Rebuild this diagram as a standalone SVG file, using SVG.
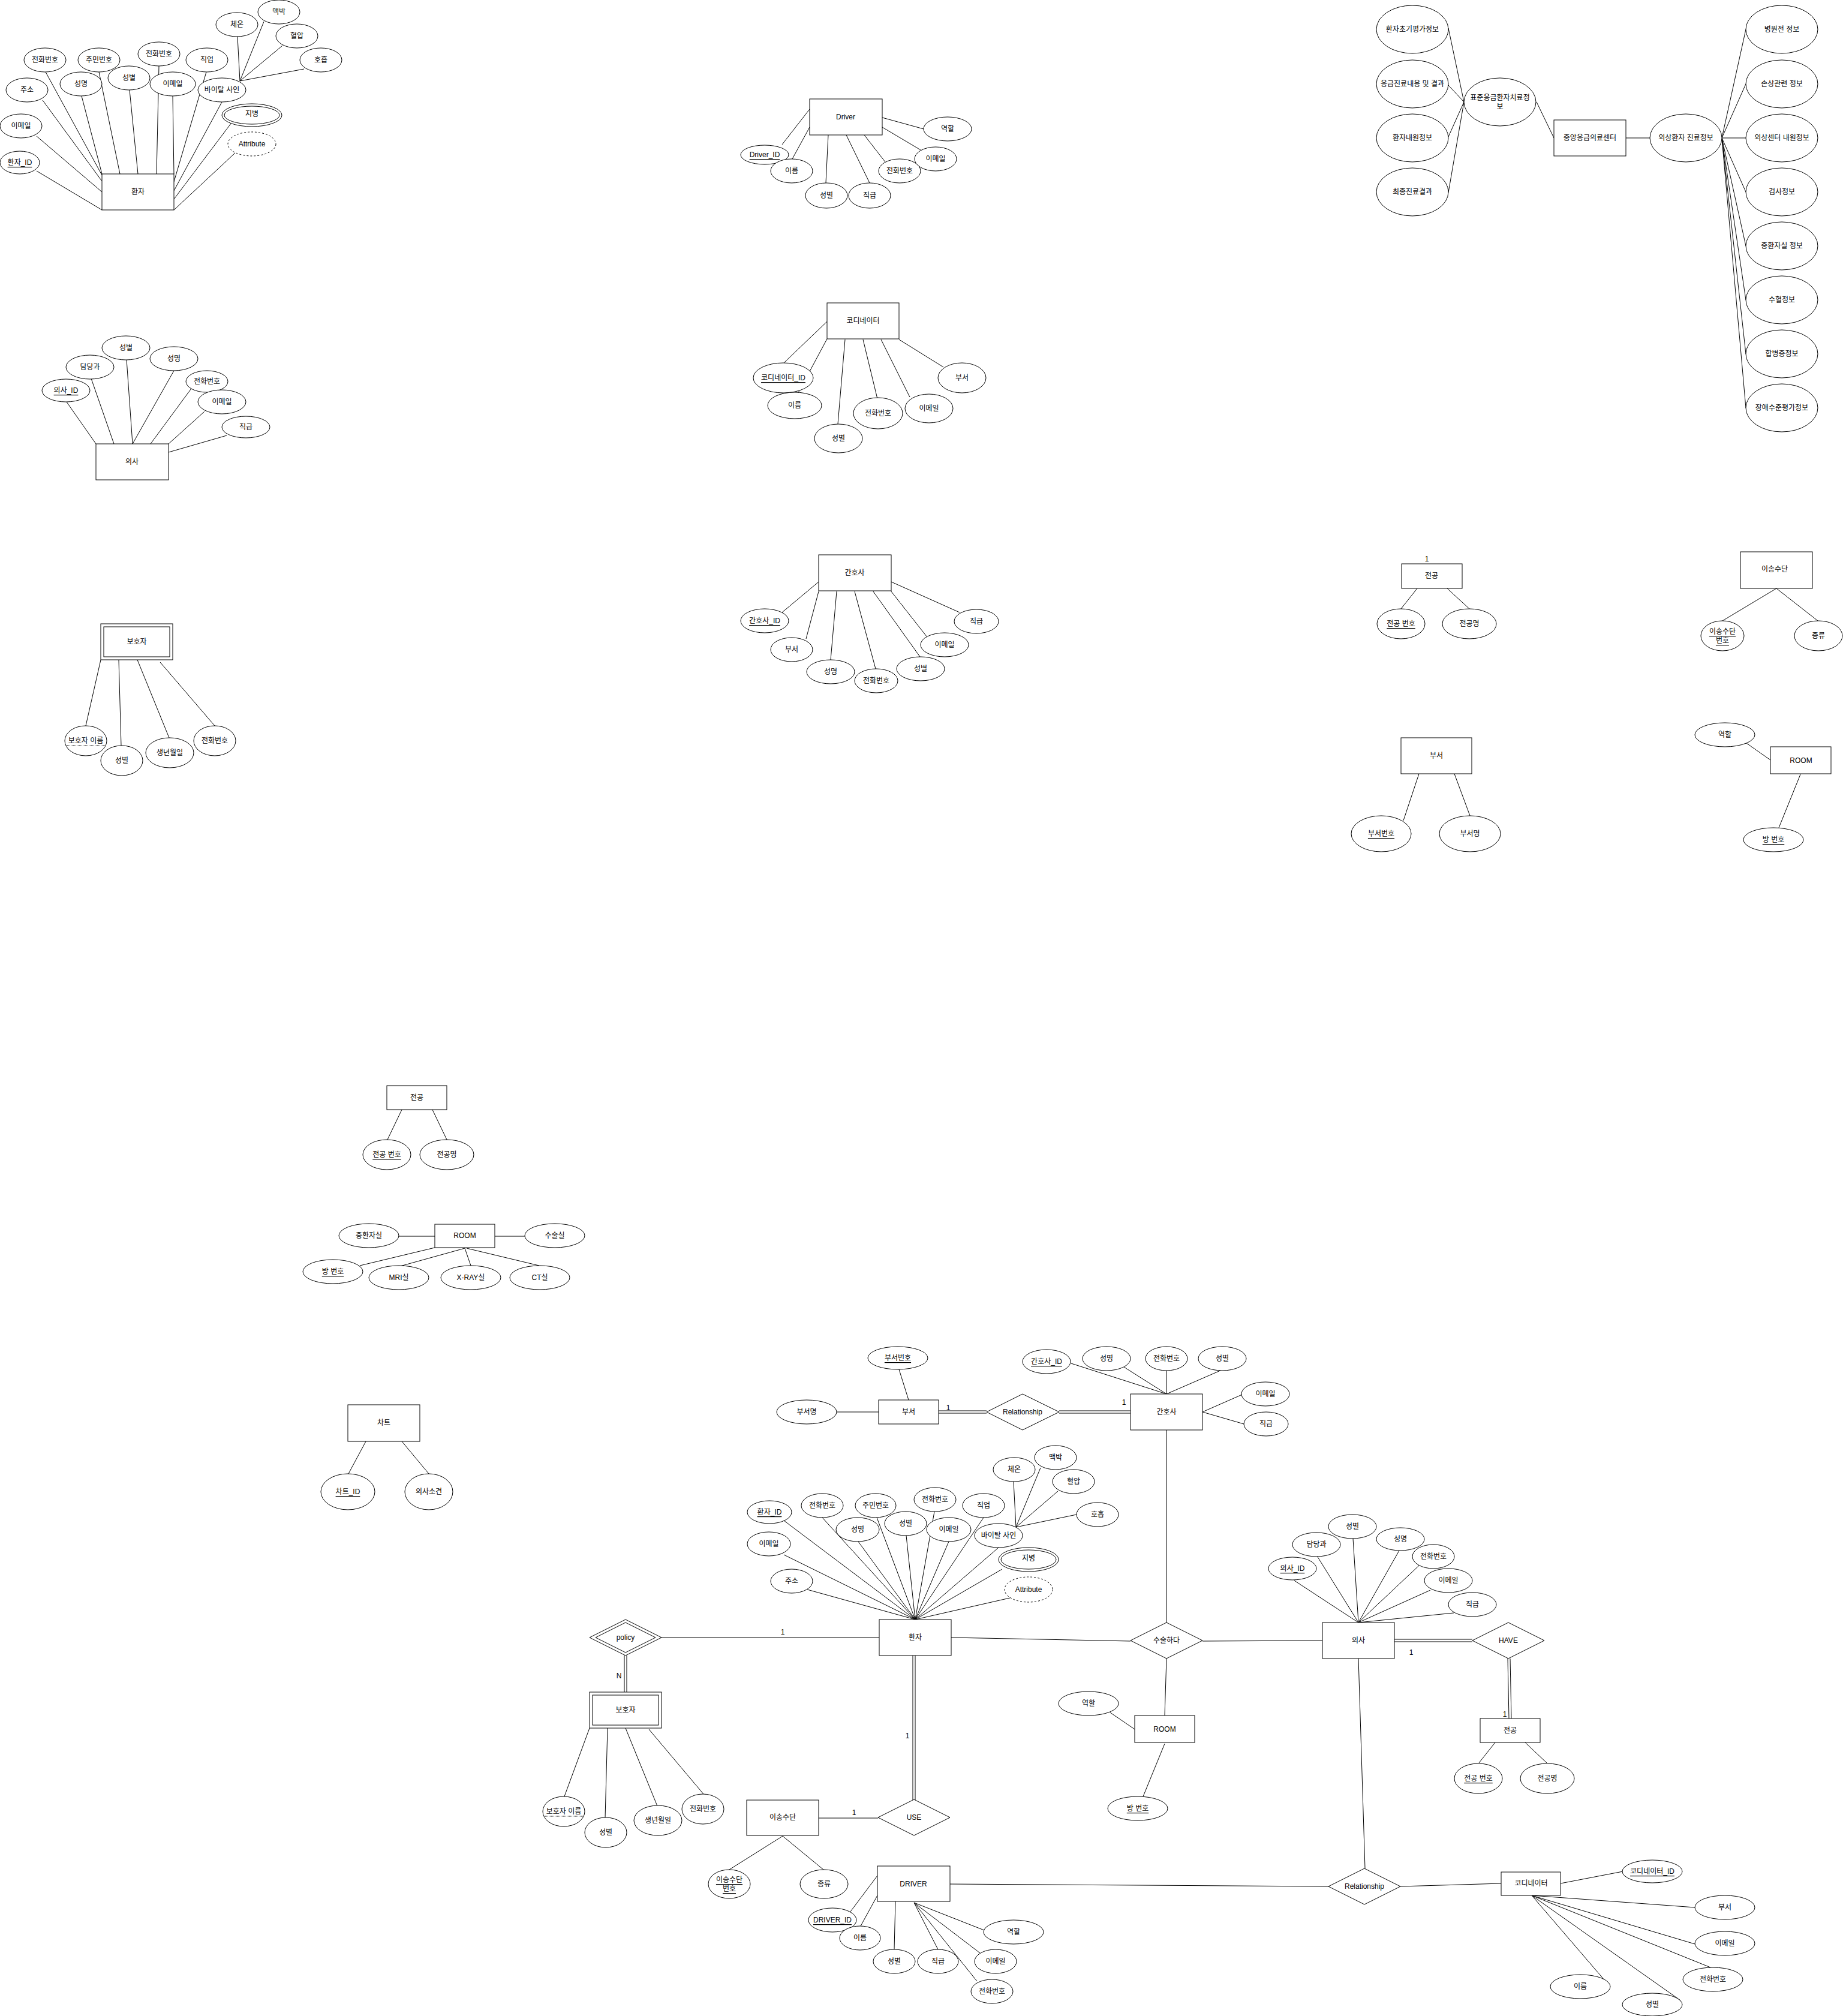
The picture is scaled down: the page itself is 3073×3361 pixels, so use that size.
<svg xmlns="http://www.w3.org/2000/svg" width="3073" height="3361" viewBox="0 0 3073 3361">
<style>
text{font-family:"Liberation Sans","Noto Sans CJK KR",sans-serif;font-size:12px;text-anchor:middle;dominant-baseline:central;fill:#000}
.n ellipse,.n rect,.n polygon{fill:#fff;stroke:#000;stroke-width:1}
.c line{stroke:#000;stroke-width:1}
.c .d1{stroke:#000;stroke-width:5}
.c .d2{stroke:#fff;stroke-width:3}
.u{text-decoration:underline}
.n .dash{stroke-dasharray:3 3}
.n .dot{stroke:#000;stroke-width:1;stroke-dasharray:1 1}
</style>
<rect width="3073" height="3361" fill="#fff"/>

<g id="connectors" class="c">
<line x1="61" y1="285" x2="170" y2="350"/>
<line x1="61" y1="227" x2="170" y2="320"/>
<line x1="71" y1="167" x2="170" y2="302"/>
<line x1="76" y1="120" x2="170" y2="292"/>
<line x1="136" y1="160" x2="170" y2="290"/>
<line x1="165" y1="120" x2="200" y2="290"/>
<line x1="216" y1="150" x2="230" y2="290"/>
<line x1="265" y1="110" x2="261" y2="290"/>
<line x1="288" y1="160" x2="290" y2="290"/>
<line x1="344" y1="120" x2="290" y2="303"/>
<line x1="370" y1="170" x2="290" y2="318"/>
<line x1="385" y1="206" x2="290" y2="332"/>
<line x1="392" y1="255" x2="290" y2="350"/>
<line x1="396" y1="61" x2="400" y2="135"/>
<line x1="440" y1="36" x2="400" y2="135"/>
<line x1="471" y1="76" x2="400" y2="135"/>
<line x1="507" y1="115" x2="400" y2="135"/>
<line x1="111" y1="670" x2="160" y2="740"/>
<line x1="152" y1="631" x2="190" y2="740"/>
<line x1="211" y1="599" x2="221" y2="740"/>
<line x1="290" y1="618" x2="221" y2="740"/>
<line x1="321" y1="645" x2="251" y2="740"/>
<line x1="341" y1="686" x2="281" y2="740"/>
<line x1="378" y1="726" x2="281" y2="754"/>
<line x1="143" y1="1210" x2="168" y2="1100"/>
<line x1="202" y1="1243" x2="198" y2="1100"/>
<line x1="282" y1="1230" x2="229" y2="1100"/>
<line x1="358" y1="1210" x2="267" y2="1104"/>
<line x1="1304" y1="241" x2="1350" y2="182"/>
<line x1="1321" y1="265" x2="1350" y2="212"/>
<line x1="1377" y1="305" x2="1381" y2="225"/>
<line x1="1450" y1="305" x2="1411" y2="225"/>
<line x1="1476" y1="270" x2="1441" y2="225"/>
<line x1="1535" y1="250" x2="1471" y2="212"/>
<line x1="1540" y1="215" x2="1471" y2="196"/>
<line x1="1307" y1="605" x2="1379" y2="536"/>
<line x1="1326" y1="664" x2="1379" y2="565"/>
<line x1="1397" y1="707" x2="1409" y2="566"/>
<line x1="1463" y1="665" x2="1439" y2="566"/>
<line x1="1517" y1="662" x2="1469" y2="566"/>
<line x1="1573" y1="612" x2="1499" y2="566"/>
<line x1="1304" y1="1021" x2="1365" y2="970"/>
<line x1="1344" y1="1065" x2="1365" y2="986"/>
<line x1="1385" y1="1100" x2="1395" y2="986"/>
<line x1="1460" y1="1115" x2="1425" y2="986"/>
<line x1="1534" y1="1095" x2="1456" y2="986"/>
<line x1="1545" y1="1061" x2="1486" y2="986"/>
<line x1="1600" y1="1021" x2="1486" y2="970"/>
<line x1="2415" y1="47" x2="2441" y2="170"/>
<line x1="2415" y1="142" x2="2441" y2="170"/>
<line x1="2415" y1="228" x2="2441" y2="170"/>
<line x1="2415" y1="321" x2="2441" y2="170"/>
<line x1="2562" y1="170" x2="2591" y2="230"/>
<line x1="2711" y1="230" x2="2751" y2="230"/>
<line x1="2871" y1="230" x2="2911" y2="49"/>
<line x1="2871" y1="230" x2="2911" y2="140"/>
<line x1="2871" y1="230" x2="2911" y2="230"/>
<line x1="2871" y1="230" x2="2911" y2="320"/>
<line x1="2871" y1="230" x2="2911" y2="410"/>
<line x1="2871" y1="230" x2="2911" y2="500"/>
<line x1="2871" y1="230" x2="2911" y2="590"/>
<line x1="2871" y1="230" x2="2911" y2="680"/>
<line x1="2336" y1="1015" x2="2363" y2="981"/>
<line x1="2450" y1="1015" x2="2413" y2="981"/>
<line x1="2872" y1="1035" x2="2962" y2="981"/>
<line x1="3031" y1="1035" x2="2962" y2="981"/>
<line x1="2340" y1="1368" x2="2366" y2="1290"/>
<line x1="2451" y1="1360" x2="2425" y2="1290"/>
<line x1="2912" y1="1239" x2="2952" y2="1267"/>
<line x1="2966" y1="1380" x2="3002" y2="1291"/>
<line x1="646" y1="1900" x2="670" y2="1850"/>
<line x1="745" y1="1900" x2="721" y2="1850"/>
<line x1="665" y1="2061" x2="725" y2="2061"/>
<line x1="825" y1="2061" x2="875" y2="2061"/>
<line x1="600" y1="2110" x2="725" y2="2080"/>
<line x1="667" y1="2111" x2="775" y2="2081"/>
<line x1="785" y1="2110" x2="775" y2="2081"/>
<line x1="899" y1="2110" x2="778" y2="2081"/>
<line x1="581" y1="2457" x2="610" y2="2403"/>
<line x1="715" y1="2457" x2="670" y2="2403"/>
<line x1="1499" y1="2283" x2="1515" y2="2334"/>
<line x1="1395" y1="2354" x2="1465" y2="2354"/>
<line class="d1" x1="1565" y1="2354" x2="1645" y2="2354"/>
<line class="d2" x1="1565" y1="2354" x2="1645" y2="2354"/>
<line class="d1" x1="1766" y1="2354" x2="1885" y2="2354"/>
<line class="d2" x1="1766" y1="2354" x2="1885" y2="2354"/>
<line x1="1786" y1="2273" x2="1945" y2="2324"/>
<line x1="1874" y1="2279" x2="1945" y2="2324"/>
<line x1="1945" y1="2284" x2="1945" y2="2324"/>
<line x1="2037" y1="2284" x2="1945" y2="2324"/>
<line x1="2071" y1="2325" x2="2005" y2="2354"/>
<line x1="2074" y1="2374" x2="2005" y2="2354"/>
<line x1="1945" y1="2384" x2="1945" y2="2705"/>
<line x1="1307" y1="2535" x2="1526" y2="2700"/>
<line x1="1307" y1="2592" x2="1526" y2="2700"/>
<line x1="1346" y1="2650" x2="1526" y2="2700"/>
<line x1="1371" y1="2530" x2="1526" y2="2700"/>
<line x1="1431" y1="2570" x2="1526" y2="2700"/>
<line x1="1462" y1="2530" x2="1526" y2="2700"/>
<line x1="1511" y1="2560" x2="1526" y2="2700"/>
<line x1="1558" y1="2520" x2="1526" y2="2700"/>
<line x1="1582" y1="2570" x2="1526" y2="2700"/>
<line x1="1640" y1="2530" x2="1526" y2="2700"/>
<line x1="1665" y1="2580" x2="1526" y2="2700"/>
<line x1="1671" y1="2616" x2="1526" y2="2700"/>
<line x1="1684" y1="2664" x2="1526" y2="2700"/>
<line x1="1690" y1="2470" x2="1694" y2="2546"/>
<line x1="1735" y1="2447" x2="1694" y2="2546"/>
<line x1="1764" y1="2486" x2="1694" y2="2546"/>
<line x1="1795" y1="2525" x2="1694" y2="2546"/>
<line x1="1103" y1="2730" x2="1466" y2="2730"/>
<line class="d1" x1="1043" y1="2760" x2="1043" y2="2821"/>
<line class="d2" x1="1043" y1="2760" x2="1043" y2="2821"/>
<line x1="941" y1="2995" x2="983" y2="2881"/>
<line x1="1009" y1="3031" x2="1013" y2="2881"/>
<line x1="1096" y1="3011" x2="1043" y2="2881"/>
<line x1="1173" y1="2991" x2="1082" y2="2883"/>
<line class="d1" x1="1524" y1="2760" x2="1524" y2="3001"/>
<line class="d2" x1="1524" y1="2760" x2="1524" y2="3001"/>
<line x1="1365" y1="3031" x2="1464" y2="3031"/>
<line x1="1216" y1="3117" x2="1305" y2="3061"/>
<line x1="1373" y1="3117" x2="1305" y2="3061"/>
<line x1="1584" y1="3141" x2="2215" y2="3145"/>
<line x1="1418" y1="3187" x2="1463" y2="3127"/>
<line x1="1435" y1="3211" x2="1463" y2="3160"/>
<line x1="1491" y1="3250" x2="1493" y2="3170"/>
<line x1="1564" y1="3250" x2="1524" y2="3172"/>
<line x1="1634" y1="3256" x2="1524" y2="3172"/>
<line x1="1629" y1="3303" x2="1524" y2="3172"/>
<line x1="1641" y1="3218" x2="1524" y2="3172"/>
<line x1="1586" y1="2730" x2="1885" y2="2736"/>
<line x1="2005" y1="2736" x2="2205" y2="2735"/>
<line x1="1945" y1="2765" x2="1942" y2="2860"/>
<line x1="1851" y1="2855" x2="1892" y2="2883"/>
<line x1="1906" y1="2995" x2="1942" y2="2907"/>
<line x1="2158" y1="2635" x2="2265" y2="2705"/>
<line x1="2196" y1="2594" x2="2265" y2="2705"/>
<line x1="2256" y1="2565" x2="2265" y2="2705"/>
<line x1="2333" y1="2585" x2="2265" y2="2705"/>
<line x1="2366" y1="2610" x2="2265" y2="2705"/>
<line x1="2385" y1="2651" x2="2265" y2="2705"/>
<line x1="2424" y1="2689" x2="2265" y2="2705"/>
<line class="d1" x1="2325" y1="2735" x2="2455" y2="2735"/>
<line class="d2" x1="2325" y1="2735" x2="2455" y2="2735"/>
<line class="d1" x1="2516" y1="2765" x2="2518" y2="2865"/>
<line class="d2" x1="2516" y1="2765" x2="2518" y2="2865"/>
<line x1="2466" y1="2939" x2="2493" y2="2905"/>
<line x1="2579" y1="2939" x2="2543" y2="2905"/>
<line x1="2265" y1="2765" x2="2276" y2="3115"/>
<line x1="2335" y1="3145" x2="2503" y2="3140"/>
<line x1="2602" y1="3140" x2="2706" y2="3120"/>
<line x1="2554" y1="3160" x2="2826" y2="3180"/>
<line x1="2554" y1="3160" x2="2826" y2="3241"/>
<line x1="2554" y1="3160" x2="2852" y2="3280"/>
<line x1="2554" y1="3160" x2="2676" y2="3302"/>
<line x1="2554" y1="3160" x2="2802" y2="3335"/>
</g>

<g id="labels">
<text x="2379" y="932">1</text>
<text x="1581" y="2347">1</text>
<text x="1874" y="2338">1</text>
<text x="1305" y="2721">1</text>
<text x="1032" y="2794">N</text>
<text x="1513" y="2894">1</text>
<text x="1424" y="3022">1</text>
<text x="2353" y="2755">1</text>
<text x="2509" y="2858">1</text>
</g>

<g id="patient1" class="n"><rect x="170" y="290" width="120" height="60"/><text x="230" y="320">환자</text></g>
<g id="p1-id" class="n"><ellipse cx="33" cy="271" rx="33" ry="19"/><text class="u" x="33" y="271">환자_ID</text></g>
<g id="p1-email" class="n"><ellipse cx="35" cy="210" rx="35" ry="20"/><text x="35" y="210">이메일</text></g>
<g id="p1-addr" class="n"><ellipse cx="45" cy="150" rx="35" ry="20"/><text x="45" y="150">주소</text></g>
<g id="p1-tel" class="n"><ellipse cx="75" cy="100" rx="35" ry="20"/><text x="75" y="100">전화번호</text></g>
<g id="p1-name" class="n"><ellipse cx="135" cy="140" rx="35" ry="20"/><text x="135" y="140">성명</text></g>
<g id="p1-rrn" class="n"><ellipse cx="165" cy="100" rx="35" ry="20"/><text x="165" y="100">주민번호</text></g>
<g id="p1-sex" class="n"><ellipse cx="215" cy="130" rx="35" ry="20"/><text x="215" y="130">성별</text></g>
<g id="p1-tel2" class="n"><ellipse cx="265" cy="90" rx="35" ry="20"/><text x="265" y="90">전화번호</text></g>
<g id="p1-email2" class="n"><ellipse cx="288" cy="140" rx="38" ry="20"/><text x="288" y="140">이메일</text></g>
<g id="p1-job" class="n"><ellipse cx="345" cy="100" rx="35" ry="20"/><text x="345" y="100">직업</text></g>
<g id="p1-vital" class="n"><ellipse cx="370" cy="150" rx="40" ry="20"/><text x="370" y="150">바이탈 사인</text></g>
<g id="p1-disease" class="n"><ellipse cx="420" cy="192" rx="50" ry="19"/><ellipse cx="420" cy="192" rx="46" ry="15"/><text x="420" y="190">지병</text></g>
<g id="p1-attr" class="n"><ellipse class="dash" cx="420" cy="240" rx="40" ry="20"/><text x="420" y="240">Attribute</text></g>
<g id="p1-temp" class="n"><ellipse cx="395" cy="41" rx="35" ry="20"/><text x="395" y="41">체온</text></g>
<g id="p1-pulse" class="n"><ellipse cx="465" cy="20" rx="35" ry="20"/><text x="465" y="20">맥박</text></g>
<g id="p1-bp" class="n"><ellipse cx="495" cy="60" rx="35" ry="20"/><text x="495" y="60">혈압</text></g>
<g id="p1-resp" class="n"><ellipse cx="535" cy="100" rx="35" ry="20"/><text x="535" y="100">호흡</text></g>

<g id="doctor1" class="n"><rect x="160" y="740" width="121" height="60"/><text x="220" y="770">의사</text></g>
<g id="d1-id" class="n"><ellipse cx="110" cy="651" rx="40" ry="19"/><text class="u" x="110" y="651">의사_ID</text></g>
<g id="d1-dept" class="n"><ellipse cx="150" cy="612" rx="40" ry="20"/><text x="150" y="612">담당과</text></g>
<g id="d1-sex" class="n"><ellipse cx="210" cy="580" rx="40" ry="20"/><text x="210" y="580">성별</text></g>
<g id="d1-name" class="n"><ellipse cx="290" cy="598" rx="40" ry="20"/><text x="290" y="598">성명</text></g>
<g id="d1-tel" class="n"><ellipse cx="345" cy="636" rx="35" ry="18"/><text x="345" y="636">전화번호</text></g>
<g id="d1-email" class="n"><ellipse cx="370" cy="670" rx="40" ry="20"/><text x="370" y="670">이메일</text></g>
<g id="d1-rank" class="n"><ellipse cx="410" cy="712" rx="40" ry="18"/><text x="410" y="712">직급</text></g>

<g id="guardian1" class="n"><rect x="168" y="1040" width="120" height="60"/><rect x="173" y="1045" width="110" height="50"/><text x="228" y="1070">보호자</text></g>
<g id="g1-name" class="n"><ellipse cx="143" cy="1235" rx="35" ry="25"/><text x="143" y="1235">보호자 이름</text><line class="dot" x1="110" y1="1243" x2="176" y2="1243"/></g>
<g id="g1-sex" class="n"><ellipse cx="203" cy="1268" rx="35" ry="25"/><text x="203" y="1268">성별</text></g>
<g id="g1-birth" class="n"><ellipse cx="283" cy="1255" rx="40" ry="25"/><text x="283" y="1255">생년월일</text></g>
<g id="g1-tel" class="n"><ellipse cx="358" cy="1235" rx="35" ry="25"/><text x="358" y="1235">전화번호</text></g>

<g id="driver1" class="n"><rect x="1350" y="165" width="121" height="60"/><text x="1410" y="195">Driver</text></g>
<g id="dr1-id" class="n"><ellipse cx="1275" cy="258" rx="40" ry="16"/><text class="u" x="1275" y="258">Driver_ID</text></g>
<g id="dr1-name" class="n"><ellipse cx="1320" cy="285" rx="35" ry="20"/><text x="1320" y="285">이름</text></g>
<g id="dr1-sex" class="n"><ellipse cx="1378" cy="326" rx="35" ry="21"/><text x="1378" y="326">성별</text></g>
<g id="dr1-rank" class="n"><ellipse cx="1450" cy="326" rx="35" ry="21"/><text x="1450" y="326">직급</text></g>
<g id="dr1-tel" class="n"><ellipse cx="1500" cy="285" rx="35" ry="20"/><text x="1500" y="285">전화번호</text></g>
<g id="dr1-email" class="n"><ellipse cx="1560" cy="265" rx="35" ry="20"/><text x="1560" y="265">이메일</text></g>
<g id="dr1-role" class="n"><ellipse cx="1580" cy="215" rx="40" ry="20"/><text x="1580" y="215">역할</text></g>

<g id="coord1" class="n"><rect x="1379" y="505" width="120" height="60"/><text x="1439" y="535">코디네이터</text></g>
<g id="c1-id" class="n"><ellipse cx="1306" cy="630" rx="50" ry="25"/><text class="u" x="1306" y="630">코디네이터_ID</text></g>
<g id="c1-name" class="n"><ellipse cx="1325" cy="676" rx="45" ry="22"/><text x="1325" y="676">이름</text></g>
<g id="c1-sex" class="n"><ellipse cx="1398" cy="731" rx="40" ry="24"/><text x="1398" y="731">성별</text></g>
<g id="c1-tel" class="n"><ellipse cx="1464" cy="689" rx="41" ry="26"/><text x="1464" y="689">전화번호</text></g>
<g id="c1-email" class="n"><ellipse cx="1549" cy="681" rx="40" ry="24"/><text x="1549" y="681">이메일</text></g>
<g id="c1-dept" class="n"><ellipse cx="1604" cy="630" rx="40" ry="25"/><text x="1604" y="630">부서</text></g>

<g id="nurse1" class="n"><rect x="1365" y="925" width="121" height="60"/><text x="1425" y="955">간호사</text></g>
<g id="n1-id" class="n"><ellipse cx="1275" cy="1035" rx="40" ry="20"/><text class="u" x="1275" y="1035">간호사_ID</text></g>
<g id="n1-dept" class="n"><ellipse cx="1320" cy="1083" rx="35" ry="20"/><text x="1320" y="1083">부서</text></g>
<g id="n1-name" class="n"><ellipse cx="1385" cy="1120" rx="40" ry="20"/><text x="1385" y="1120">성명</text></g>
<g id="n1-tel" class="n"><ellipse cx="1461" cy="1135" rx="36" ry="20"/><text x="1461" y="1135">전화번호</text></g>
<g id="n1-sex" class="n"><ellipse cx="1535" cy="1115" rx="40" ry="20"/><text x="1535" y="1115">성별</text></g>
<g id="n1-email" class="n"><ellipse cx="1575" cy="1075" rx="40" ry="20"/><text x="1575" y="1075">이메일</text></g>
<g id="n1-rank" class="n"><ellipse cx="1628" cy="1036" rx="37" ry="20"/><text x="1628" y="1036">직급</text></g>

<g id="center" class="n"><rect x="2591" y="200" width="120" height="60"/><text x="2651" y="230">중앙응급의료센터</text></g>
<g id="std" class="n"><ellipse cx="2501" cy="170" rx="60" ry="40"/><text x="2501" y="163">표준응급환자치료정</text><text x="2501" y="178">보</text></g>
<g id="s-1" class="n"><ellipse cx="2355" cy="49" rx="60" ry="40"/><text x="2355" y="49">환자초기평가정보</text></g>
<g id="s-2" class="n"><ellipse cx="2355" cy="140" rx="60" ry="40"/><text x="2355" y="140">응급진료내용 및 결과</text></g>
<g id="s-3" class="n"><ellipse cx="2355" cy="230" rx="60" ry="40"/><text x="2355" y="230">환자내원정보</text></g>
<g id="s-4" class="n"><ellipse cx="2355" cy="320" rx="60" ry="40"/><text x="2355" y="320">최종진료결과</text></g>
<g id="trauma" class="n"><ellipse cx="2811" cy="230" rx="60" ry="40"/><text x="2811" y="230">외상환자 진료정보</text></g>
<g id="t-1" class="n"><ellipse cx="2971" cy="49" rx="60" ry="40"/><text x="2971" y="49">병원전 정보</text></g>
<g id="t-2" class="n"><ellipse cx="2971" cy="140" rx="60" ry="40"/><text x="2971" y="140">손상관련 정보</text></g>
<g id="t-3" class="n"><ellipse cx="2971" cy="230" rx="60" ry="40"/><text x="2971" y="230">외상센터 내원정보</text></g>
<g id="t-4" class="n"><ellipse cx="2971" cy="320" rx="60" ry="40"/><text x="2971" y="320">검사정보</text></g>
<g id="t-5" class="n"><ellipse cx="2971" cy="410" rx="60" ry="40"/><text x="2971" y="410">중환자실 정보</text></g>
<g id="t-6" class="n"><ellipse cx="2971" cy="500" rx="60" ry="40"/><text x="2971" y="500">수혈정보</text></g>
<g id="t-7" class="n"><ellipse cx="2971" cy="590" rx="60" ry="40"/><text x="2971" y="590">합병증정보</text></g>
<g id="t-8" class="n"><ellipse cx="2971" cy="680" rx="60" ry="40"/><text x="2971" y="680">장애수준평가정보</text></g>

<g id="major1" class="n"><rect x="2337" y="940" width="101" height="41"/><text x="2387" y="960">전공</text></g>
<g id="m1-no" class="n"><ellipse cx="2336" cy="1040" rx="40" ry="25"/><text class="u" x="2336" y="1040">전공 번호</text></g>
<g id="m1-name" class="n"><ellipse cx="2450" cy="1040" rx="45" ry="25"/><text x="2450" y="1040">전공명</text></g>
<g id="trans1" class="n"><rect x="2902" y="920" width="120" height="61"/><text x="2959" y="949">이송수단</text></g>
<g id="tr1-no" class="n"><ellipse cx="2872" cy="1060" rx="36" ry="25"/><text class="u" x="2872" y="1053">이송수단</text><text class="u" x="2872" y="1068">번호</text></g>
<g id="tr1-kind" class="n"><ellipse cx="3032" cy="1060" rx="40" ry="25"/><text x="3032" y="1060">종류</text></g>
<g id="dept1" class="n"><rect x="2336" y="1230" width="118" height="60"/><text x="2395" y="1260">부서</text></g>
<g id="de1-no" class="n"><ellipse cx="2303" cy="1390" rx="50" ry="30"/><text class="u" x="2303" y="1390">부서번호</text></g>
<g id="de1-name" class="n"><ellipse cx="2451" cy="1390" rx="51" ry="30"/><text x="2451" y="1390">부서명</text></g>
<g id="room1-role" class="n"><ellipse cx="2876" cy="1225" rx="50" ry="20"/><text x="2876" y="1225">역할</text></g>
<g id="room1" class="n"><rect x="2952" y="1245" width="101" height="45"/><text x="3003" y="1268">ROOM</text></g>
<g id="room1-no" class="n"><ellipse cx="2957" cy="1400" rx="50" ry="20"/><text class="u" x="2957" y="1400">방 번호</text></g>

<g id="major2" class="n"><rect x="645" y="1810" width="100" height="40"/><text x="695" y="1830">전공</text></g>
<g id="m2-no" class="n"><ellipse cx="645" cy="1925" rx="40" ry="25"/><text class="u" x="645" y="1925">전공 번호</text></g>
<g id="m2-name" class="n"><ellipse cx="745" cy="1925" rx="45" ry="25"/><text x="745" y="1925">전공명</text></g>
<g id="room2" class="n"><rect x="725" y="2041" width="100" height="39"/><text x="775" y="2060">ROOM</text></g>
<g id="r2-icu" class="n"><ellipse cx="615" cy="2060" rx="50" ry="20"/><text x="615" y="2060">중환자실</text></g>
<g id="r2-or" class="n"><ellipse cx="925" cy="2060" rx="50" ry="20"/><text x="925" y="2060">수술실</text></g>
<g id="r2-no" class="n"><ellipse cx="555" cy="2120" rx="50" ry="20"/><text class="u" x="555" y="2120">방 번호</text></g>
<g id="r2-mri" class="n"><ellipse cx="665" cy="2130" rx="50" ry="20"/><text x="665" y="2130">MRI실</text></g>
<g id="r2-xray" class="n"><ellipse cx="785" cy="2130" rx="50" ry="20"/><text x="785" y="2130">X-RAY실</text></g>
<g id="r2-ct" class="n"><ellipse cx="900" cy="2130" rx="50" ry="20"/><text x="900" y="2130">CT실</text></g>
<g id="chart" class="n"><rect x="580" y="2342" width="120" height="61"/><text x="640" y="2372">차트</text></g>
<g id="ch-id" class="n"><ellipse cx="580" cy="2487" rx="45" ry="30"/><text class="u" x="580" y="2487">차트_ID</text></g>
<g id="ch-op" class="n"><ellipse cx="715" cy="2487" rx="40" ry="30"/><text x="715" y="2487">의사소견</text></g>

<g id="dept2" class="n"><rect x="1465" y="2334" width="100" height="40"/><text x="1515" y="2354">부서</text></g>
<g id="de2-no" class="n"><ellipse cx="1497" cy="2264" rx="50" ry="19"/><text class="u" x="1497" y="2264">부서번호</text></g>
<g id="de2-name" class="n"><ellipse cx="1345" cy="2354" rx="50" ry="20"/><text x="1345" y="2354">부서명</text></g>
<g id="rel1" class="n"><polygon points="1645,2354 1705,2324 1766,2354 1705,2384"/><text x="1705" y="2354">Relationship</text></g>
<g id="nurse2" class="n"><rect x="1885" y="2324" width="120" height="60"/><text x="1945" y="2354">간호사</text></g>
<g id="n2-id" class="n"><ellipse cx="1745" cy="2270" rx="40" ry="20"/><text class="u" x="1745" y="2270">간호사_ID</text></g>
<g id="n2-name" class="n"><ellipse cx="1845" cy="2265" rx="40" ry="20"/><text x="1845" y="2265">성명</text></g>
<g id="n2-tel" class="n"><ellipse cx="1945" cy="2265" rx="35" ry="20"/><text x="1945" y="2265">전화번호</text></g>
<g id="n2-sex" class="n"><ellipse cx="2038" cy="2265" rx="40" ry="20"/><text x="2038" y="2265">성별</text></g>
<g id="n2-email" class="n"><ellipse cx="2110" cy="2324" rx="40" ry="20"/><text x="2110" y="2324">이메일</text></g>
<g id="n2-rank" class="n"><ellipse cx="2111" cy="2374" rx="37" ry="20"/><text x="2111" y="2374">직급</text></g>

<g id="patient2" class="n"><rect x="1466" y="2700" width="120" height="60"/><text x="1526" y="2730">환자</text></g>
<g id="p2-id" class="n"><ellipse cx="1283" cy="2521" rx="37" ry="19"/><text class="u" x="1283" y="2521">환자_ID</text></g>
<g id="p2-email" class="n"><ellipse cx="1282" cy="2574" rx="36" ry="20"/><text x="1282" y="2574">이메일</text></g>
<g id="p2-addr" class="n"><ellipse cx="1320" cy="2636" rx="35" ry="20"/><text x="1320" y="2636">주소</text></g>
<g id="p2-tel" class="n"><ellipse cx="1371" cy="2510" rx="35" ry="20"/><text x="1371" y="2510">전화번호</text></g>
<g id="p2-rrn" class="n"><ellipse cx="1460" cy="2510" rx="34" ry="20"/><text x="1460" y="2510">주민번호</text></g>
<g id="p2-name" class="n"><ellipse cx="1430" cy="2550" rx="36" ry="20"/><text x="1430" y="2550">성명</text></g>
<g id="p2-tel2" class="n"><ellipse cx="1559" cy="2500" rx="35" ry="20"/><text x="1559" y="2500">전화번호</text></g>
<g id="p2-sex" class="n"><ellipse cx="1510" cy="2540" rx="35" ry="20"/><text x="1510" y="2540">성별</text></g>
<g id="p2-email2" class="n"><ellipse cx="1582" cy="2550" rx="37" ry="20"/><text x="1582" y="2550">이메일</text></g>
<g id="p2-job" class="n"><ellipse cx="1640" cy="2510" rx="35" ry="20"/><text x="1640" y="2510">직업</text></g>
<g id="p2-vital" class="n"><ellipse cx="1665" cy="2560" rx="40" ry="20"/><text x="1665" y="2560">바이탈 사인</text></g>
<g id="p2-disease" class="n"><ellipse cx="1715" cy="2600" rx="50" ry="20"/><ellipse cx="1715" cy="2600" rx="46" ry="16"/><text x="1715" y="2598">지병</text></g>
<g id="p2-attr" class="n"><ellipse class="dash" cx="1715" cy="2650" rx="40" ry="21"/><text x="1715" y="2650">Attribute</text></g>
<g id="p2-temp" class="n"><ellipse cx="1691" cy="2450" rx="35" ry="20"/><text x="1691" y="2450">체온</text></g>
<g id="p2-pulse" class="n"><ellipse cx="1760" cy="2430" rx="35" ry="20"/><text x="1760" y="2430">맥박</text></g>
<g id="p2-bp" class="n"><ellipse cx="1790" cy="2470" rx="35" ry="20"/><text x="1790" y="2470">혈압</text></g>
<g id="p2-resp" class="n"><ellipse cx="1830" cy="2525" rx="35" ry="20"/><text x="1830" y="2525">호흡</text></g>

<g id="policy" class="n"><polygon points="983,2730 1043,2700 1103,2730 1043,2760"/><polygon points="993,2730 1043,2705 1093,2730 1043,2755"/><text x="1043" y="2730">policy</text></g>
<g id="guardian2" class="n"><rect x="983" y="2821" width="120" height="60"/><rect x="988" y="2826" width="110" height="50"/><text x="1043" y="2851">보호자</text></g>
<g id="g2-name" class="n"><ellipse cx="940" cy="3020" rx="35" ry="25"/><text x="940" y="3020">보호자 이름</text><line class="dot" x1="907" y1="3028" x2="973" y2="3028"/></g>
<g id="g2-sex" class="n"><ellipse cx="1010" cy="3055" rx="35" ry="25"/><text x="1010" y="3055">성별</text></g>
<g id="g2-birth" class="n"><ellipse cx="1097" cy="3035" rx="40" ry="25"/><text x="1097" y="3035">생년월일</text></g>
<g id="g2-tel" class="n"><ellipse cx="1172" cy="3016" rx="35" ry="25"/><text x="1172" y="3016">전화번호</text></g>

<g id="use" class="n"><polygon points="1464,3030 1524,3000 1584,3030 1524,3060"/><text x="1524" y="3030">USE</text></g>
<g id="trans2" class="n"><rect x="1245" y="3001" width="120" height="59"/><text x="1305" y="3030">이송수단</text></g>
<g id="tr2-no" class="n"><ellipse cx="1216" cy="3141" rx="35" ry="24"/><text class="u" x="1216" y="3134">이송수단</text><text class="u" x="1216" y="3149">번호</text></g>
<g id="tr2-kind" class="n"><ellipse cx="1374" cy="3141" rx="40" ry="24"/><text x="1374" y="3141">종류</text></g>
<g id="driver2" class="n"><rect x="1463" y="3111" width="121" height="59"/><text x="1523" y="3141">DRIVER</text></g>
<g id="dr2-id" class="n"><ellipse cx="1388" cy="3201" rx="40" ry="20"/><text class="u" x="1388" y="3201">DRIVER_ID</text></g>
<g id="dr2-name" class="n"><ellipse cx="1434" cy="3231" rx="34" ry="20"/><text x="1434" y="3231">이름</text></g>
<g id="dr2-sex" class="n"><ellipse cx="1491" cy="3270" rx="35" ry="20"/><text x="1491" y="3270">성별</text></g>
<g id="dr2-rank" class="n"><ellipse cx="1564" cy="3270" rx="34" ry="20"/><text x="1564" y="3270">직급</text></g>
<g id="dr2-email" class="n"><ellipse cx="1660" cy="3270" rx="35" ry="20"/><text x="1660" y="3270">이메일</text></g>
<g id="dr2-tel" class="n"><ellipse cx="1654" cy="3320" rx="35" ry="20"/><text x="1654" y="3320">전화번호</text></g>
<g id="dr2-role" class="n"><ellipse cx="1690" cy="3221" rx="50" ry="20"/><text x="1690" y="3221">역할</text></g>

<g id="surgery" class="n"><polygon points="1885,2735 1945,2705 2005,2735 1945,2765"/><text x="1945" y="2735">수술하다</text></g>
<g id="room3" class="n"><rect x="1892" y="2860" width="100" height="45"/><text x="1942" y="2883">ROOM</text></g>
<g id="r3-role" class="n"><ellipse cx="1815" cy="2840" rx="50" ry="20"/><text x="1815" y="2840">역할</text></g>
<g id="r3-no" class="n"><ellipse cx="1897" cy="3015" rx="50" ry="20"/><text class="u" x="1897" y="3015">방 번호</text></g>

<g id="doctor2" class="n"><rect x="2205" y="2705" width="120" height="60"/><text x="2265" y="2735">의사</text></g>
<g id="d2-id" class="n"><ellipse cx="2155" cy="2615" rx="40" ry="19"/><text class="u" x="2155" y="2615">의사_ID</text></g>
<g id="d2-dept" class="n"><ellipse cx="2195" cy="2575" rx="40" ry="20"/><text x="2195" y="2575">담당과</text></g>
<g id="d2-sex" class="n"><ellipse cx="2255" cy="2545" rx="40" ry="20"/><text x="2255" y="2545">성별</text></g>
<g id="d2-name" class="n"><ellipse cx="2335" cy="2566" rx="40" ry="19"/><text x="2335" y="2566">성명</text></g>
<g id="d2-tel" class="n"><ellipse cx="2390" cy="2595" rx="35" ry="20"/><text x="2390" y="2595">전화번호</text></g>
<g id="d2-email" class="n"><ellipse cx="2415" cy="2635" rx="40" ry="20"/><text x="2415" y="2635">이메일</text></g>
<g id="d2-rank" class="n"><ellipse cx="2455" cy="2675" rx="40" ry="20"/><text x="2455" y="2675">직급</text></g>
<g id="have" class="n"><polygon points="2455,2735 2515,2705 2575,2735 2515,2765"/><text x="2515" y="2735">HAVE</text></g>
<g id="major3" class="n"><rect x="2468" y="2865" width="100" height="40"/><text x="2518" y="2885">전공</text></g>
<g id="m3-no" class="n"><ellipse cx="2465" cy="2965" rx="40" ry="25"/><text class="u" x="2465" y="2965">전공 번호</text></g>
<g id="m3-name" class="n"><ellipse cx="2580" cy="2965" rx="45" ry="25"/><text x="2580" y="2965">전공명</text></g>
<g id="rel2" class="n"><polygon points="2215,3145 2275,3115 2335,3145 2275,3175"/><text x="2275" y="3145">Relationship</text></g>

<g id="coord2" class="n"><rect x="2503" y="3121" width="99" height="39"/><text x="2553" y="3140">코디네이터</text></g>
<g id="c2-id" class="n"><ellipse cx="2755" cy="3120" rx="50" ry="19"/><text class="u" x="2755" y="3120">코디네이터_ID</text></g>
<g id="c2-dept" class="n"><ellipse cx="2876" cy="3180" rx="50" ry="20"/><text x="2876" y="3180">부서</text></g>
<g id="c2-email" class="n"><ellipse cx="2876" cy="3240" rx="50" ry="20"/><text x="2876" y="3240">이메일</text></g>
<g id="c2-tel" class="n"><ellipse cx="2856" cy="3300" rx="50" ry="20"/><text x="2856" y="3300">전화번호</text></g>
<g id="c2-name" class="n"><ellipse cx="2635" cy="3312" rx="50" ry="20"/><text x="2635" y="3312">이름</text></g>
<g id="c2-sex" class="n"><ellipse cx="2755" cy="3342" rx="50" ry="19"/><text x="2755" y="3342">성별</text></g>
</svg>
